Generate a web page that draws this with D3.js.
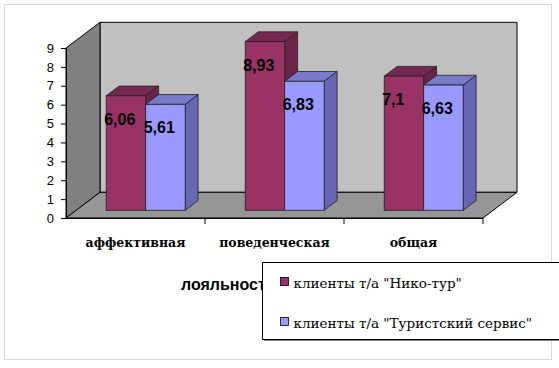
<!DOCTYPE html>
<html>
<head>
<meta charset="utf-8">
<script src="https://cdn.jsdelivr.net/npm/d3@7"></script>
<style>
  body { margin: 0; background: #fff; }
  svg { display: block; }
  .y-axis text { font-family: "Liberation Sans", Arial, sans-serif; font-size: 13px; fill: #000; }
  .cat-label { font-family: "DejaVu Serif", serif; font-size: 12.5px; font-weight: bold; }
  .value-label { font-family: "Liberation Sans", Arial, sans-serif; font-size: 16px; font-weight: bold; }
  .legend-text { font-family: "DejaVu Serif", serif; font-size: 13.5px; }
</style>
</head>
<body>
<svg id="chart" width="559" height="368"></svg>
<script>
const categories = ["аффективная", "поведенческая", "общая"];
const seriesNames = ['клиенты т/а "Нико-тур"', 'клиенты т/а "Туристский сервис"'];
const nikoTur = [6.06, 8.93, 7.1];
const turService = [5.61, 6.83, 6.63];
const yTicks = [0, 1, 2, 3, 4, 5, 6, 7, 8, 9];
const axisTitle = "лояльность";

const seriesColors = [
    { front: "#993366", top: "#772850", side: "#6b2447" },
    { front: "#9999ff", top: "#7a7acc", side: "#6666b3" }
];

const svg = d3.select("#chart");

// 3D frame geometry
const depthX = 34, depthY = -25.7;
const barDepth = 0.38;   // share of floor depth a bar takes
const barOffset = 0.3;   // where bars start in depth

const x0 = d3.scaleBand().domain(categories).range([66, 483]).padding(0);
const x1 = d3.scaleBand().domain(d3.range(seriesNames.length))
    .range([0, x0.bandwidth()]).paddingOuter(0.76).paddingInner(0);
const y = d3.scaleLinear().domain([0, 9]).range([218, 48]);

const left = x0.range()[0], right = x0.range()[1];
const y0 = y(0), yTop = y(9);

// outer border
svg.append("rect")
    .attr("x", 4.5).attr("y", 4.5)
    .attr("width", 547).attr("height", 355)
    .attr("fill", "#fff")
    .attr("stroke", "#d9d9d9");

// walls
const pts = a => a.map(p => p.join(",")).join(" ");
svg.append("polygon")
    .attr("points", pts([[left + depthX, yTop + depthY], [right + depthX, yTop + depthY],
        [right + depthX, y0 + depthY], [left + depthX, y0 + depthY]]))
    .attr("fill", "#c0c0c0").attr("stroke", "#000").attr("stroke-width", 1);
svg.append("polygon")
    .attr("points", pts([[left, yTop], [left + depthX, yTop + depthY],
        [left + depthX, y0 + depthY], [left, y0]]))
    .attr("fill", "#808080").attr("stroke", "#000").attr("stroke-width", 1);
svg.append("polygon")
    .attr("points", pts([[left, y0], [left + depthX, y0 + depthY],
        [right + depthX, y0 + depthY], [right, y0]]))
    .attr("fill", "#969696").attr("stroke", "#000").attr("stroke-width", 1);

// y axis
const yAxis = svg.append("g")
    .attr("class", "y-axis")
    .attr("transform", `translate(${left},0)`)
    .call(d3.axisLeft(y).tickValues(yTicks).tickFormat(d3.format("d"))
        .tickSize(5).tickSizeOuter(0).tickPadding(7));
yAxis.select(".domain").attr("stroke", "#000");
yAxis.selectAll(".tick line").attr("stroke", "#000");

// category axis line + ticks at band edges
svg.append("line")
    .attr("x1", left).attr("x2", right)
    .attr("y1", y0 + 0.5).attr("y2", y0 + 0.5)
    .attr("stroke", "#000");
svg.selectAll(".cat-tick")
    .data(categories.slice(1).map(c => x0(c)).concat([right]))
    .join("line")
    .attr("class", "cat-tick")
    .attr("x1", d => d).attr("x2", d => d)
    .attr("y1", y0).attr("y2", y0 + 6)
    .attr("stroke", "#000");

svg.selectAll(".cat-label")
    .data(categories)
    .join("text")
    .attr("class", "cat-label")
    .attr("x", d => x0(d) + x0.bandwidth() / 2)
    .attr("y", 247)
    .attr("text-anchor", "middle")
    .text(d => d);

// bars
const offX = depthX * barOffset, offY = depthY * barOffset;
const bdx = depthX * barDepth, bdy = depthY * barDepth;
const barData = [];
categories.forEach((c, i) => {
    [nikoTur, turService].forEach((vals, s) => {
        barData.push({ cat: c, s: s, value: vals[i] });
    });
});

const bars = svg.selectAll(".bar")
    .data(barData)
    .join("g")
    .attr("class", "bar");

bars.each(function(d) {
    const g = d3.select(this);
    const col = seriesColors[d.s];
    const bx = x0(d.cat) + x1(d.s) + offX;
    const w = x1.bandwidth();
    const yt = y(d.value) + offY;
    const yb = y0 + offY;
    g.append("polygon")
        .attr("points", pts([[bx + w, yt], [bx + w + bdx, yt + bdy], [bx + w + bdx, yb + bdy], [bx + w, yb]]))
        .attr("fill", col.side).attr("stroke", "#222").attr("stroke-width", 0.8);
    g.append("polygon")
        .attr("points", pts([[bx, yt], [bx + bdx, yt + bdy], [bx + w + bdx, yt + bdy], [bx + w, yt]]))
        .attr("fill", col.top).attr("stroke", "#222").attr("stroke-width", 0.8);
    g.append("rect")
        .attr("x", bx).attr("y", yt)
        .attr("width", w).attr("height", yb - yt)
        .attr("fill", col.front).attr("stroke", "#222").attr("stroke-width", 0.8);
});

svg.selectAll(".value-label")
    .data(barData)
    .join("text")
    .attr("class", "value-label")
    .attr("x", d => x0(d.cat) + x1(d.s) + offX - 2)
    .attr("y", d => y(d.value) + offY + 29)
    .text(d => String(d.value).replace(".", ","));

// axis title (partly covered by the legend, as in the original)
svg.append("text")
    .attr("x", 181).attr("y", 290)
    .attr("font-family", "'Liberation Sans', Arial, sans-serif")
    .attr("font-size", 16).attr("font-weight", "bold")
    .text(axisTitle);

// legend
const legend = svg.append("g").attr("transform", "translate(262.5,262.5)");
legend.append("rect")
    .attr("x", 1.5).attr("y", 1.5).attr("width", 310).attr("height", 77)
    .attr("fill", "#808080");
legend.append("rect")
    .attr("width", 310).attr("height", 77)
    .attr("fill", "#fff").attr("stroke", "#000");
const items = legend.selectAll(".legend-item")
    .data(seriesNames)
    .join("g")
    .attr("class", "legend-item")
    .attr("transform", (d, i) => `translate(18,${15 + i * 40})`);
items.append("rect")
    .attr("width", 8).attr("height", 8)
    .attr("fill", (d, i) => seriesColors[i].front)
    .attr("stroke", "#000").attr("stroke-width", 0.8);
items.append("text")
    .attr("class", "legend-text")
    .attr("x", 13).attr("y", 10)
    .text(d => d);
</script>
</body>
</html>
